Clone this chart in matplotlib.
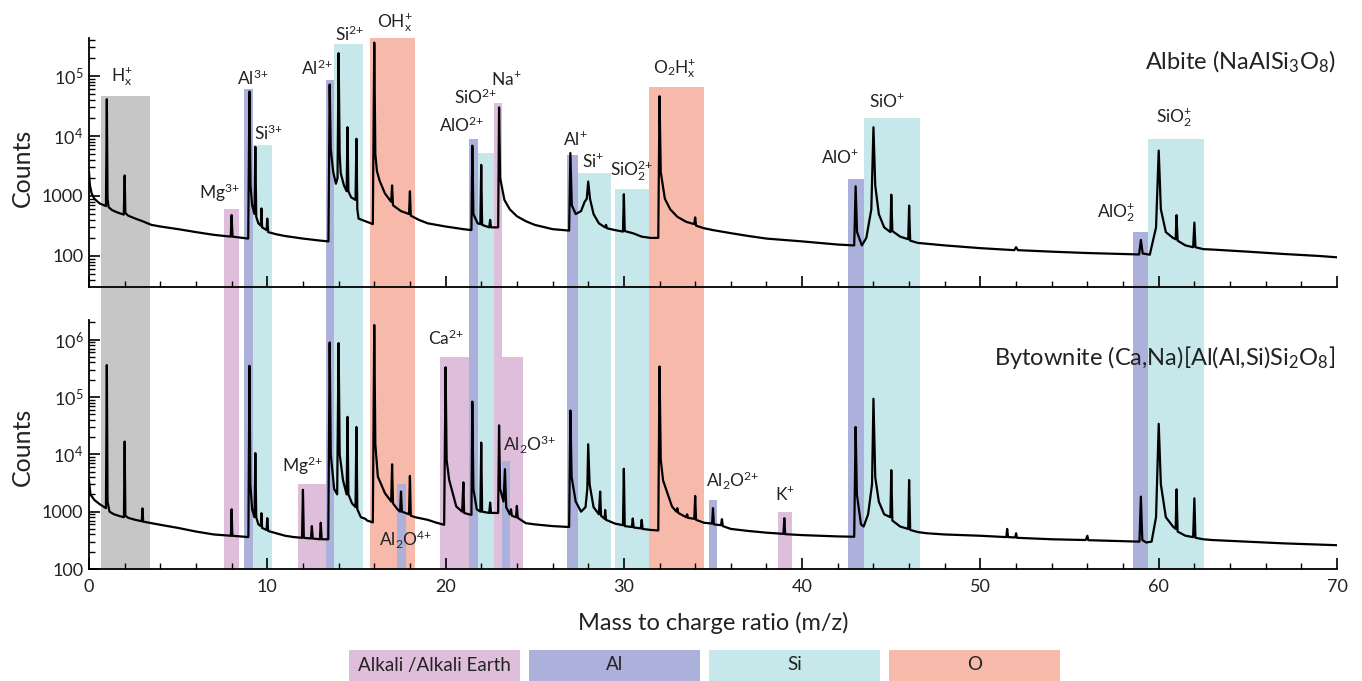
import math
import matplotlib
matplotlib.use('Agg')
import matplotlib.pyplot as plt
from matplotlib.patches import Rectangle
from matplotlib.ticker import MultipleLocator, LogLocator, FixedLocator, FuncFormatter

plt.rcParams['font.family'] = ['Lato', 'DejaVu Sans']
plt.rcParams['mathtext.fontset'] = 'custom'
plt.rcParams['mathtext.rm'] = 'Lato'
plt.rcParams['mathtext.it'] = 'Lato'
plt.rcParams['mathtext.default'] = 'regular'

# spectrum traces: (m/z, counts)
albite_trace = [
    (0.0, 2500), (0.05, 1500), (0.15, 1100), (0.3, 900), (0.6, 750), (0.95, 680),
    (1.0, 41000), (1.04, 900), (1.1, 650), (1.3, 580), (1.6, 530), (1.95, 490),
    (2.0, 2200), (2.04, 520), (2.2, 470), (2.6, 420), (3.0, 380), (3.5, 330),
    (4.0, 310), (5.0, 280), (6.0, 250), (7.0, 225), (7.95, 210), (8.0, 480),
    (8.05, 210), (8.6, 200), (8.93, 195), (9.0, 55000), (9.06, 1500), (9.15, 700),
    (9.28, 500), (9.33, 6600), (9.38, 450), (9.5, 350), (9.64, 320), (9.67, 620),
    (9.71, 300), (9.96, 270), (10.0, 420), (10.05, 250), (10.5, 230), (11.0, 215),
    (12.0, 195), (13.0, 180), (13.43, 175), (13.5, 72000), (13.56, 6000), (13.7, 2500),
    (13.85, 1600), (13.94, 2000), (14.0, 240000), (14.06, 5000), (14.12, 2400), (14.3, 1500),
    (14.45, 1200), (14.5, 14000), (14.55, 1200), (14.7, 950), (14.95, 860), (15.0, 9000),
    (15.05, 600), (15.12, 420), (15.5, 380), (15.92, 340), (16.0, 360000), (16.06, 5000),
    (16.15, 2600), (16.3, 1800), (16.6, 1100), (16.95, 800), (17.0, 1500), (17.05, 700),
    (17.5, 560), (17.95, 500), (18.0, 1200), (18.05, 470), (18.5, 400), (19.0, 350),
    (20.0, 310), (21.0, 280), (21.45, 270), (21.5, 6900), (21.56, 500), (21.8, 350),
    (21.95, 340), (22.0, 3300), (22.05, 330), (22.45, 300), (22.5, 400), (22.55, 300),
    (22.95, 300), (23.0, 30000), (23.06, 2000), (23.3, 860), (23.6, 600), (24.0, 460),
    (24.5, 380), (25.0, 330), (26.0, 280), (26.93, 265), (27.0, 5200), (27.08, 700),
    (27.3, 500), (27.6, 560), (27.8, 800), (27.92, 900), (28.0, 1740), (28.1, 900),
    (28.3, 500), (28.6, 350), (28.95, 300), (29.0, 330), (29.05, 290), (29.5, 270),
    (29.95, 255), (30.0, 1070), (30.05, 260), (30.5, 240), (31.0, 210), (31.5, 200),
    (31.93, 200), (32.0, 46000), (32.07, 2500), (32.3, 900), (32.6, 600), (33.0, 450),
    (33.5, 370), (33.95, 340), (34.0, 440), (34.05, 320), (34.5, 290), (35.0, 270),
    (36.0, 240), (37.0, 215), (38.0, 195), (39.0, 185), (40.0, 175), (41.0, 165),
    (42.0, 155), (42.92, 150), (43.0, 1450), (43.08, 250), (43.35, 150), (43.6, 200),
    (43.88, 600), (44.0, 14000), (44.1, 1500), (44.3, 500), (44.6, 300), (44.95, 250),
    (45.0, 1050), (45.06, 260), (45.5, 210), (45.95, 190), (46.0, 690), (46.06, 180),
    (46.5, 165), (47.0, 160), (48.0, 150), (50.0, 135), (51.9, 125), (52.0, 140),
    (52.1, 125), (54.0, 118), (56.0, 112), (58.0, 108), (58.9, 106), (59.0, 185),
    (59.1, 110), (59.5, 105), (59.85, 300), (60.0, 5700), (60.12, 600), (60.4, 250),
    (60.8, 200), (60.95, 190), (61.0, 480), (61.06, 180), (61.5, 150), (61.93, 140),
    (62.0, 360), (62.06, 140), (62.5, 130), (63.0, 128), (65.0, 118), (67.0, 108),
    (69.0, 100), (70.0, 95),
]

bytownite_trace = [
    (0.0, 3500), (0.08, 2000), (0.3, 1600), (0.6, 1350), (0.95, 1150), (1.0, 360000),
    (1.04, 1500), (1.15, 1000), (1.4, 900), (1.7, 840), (1.96, 800), (2.0, 16700),
    (2.04, 850), (2.2, 780), (2.6, 720), (2.96, 680), (3.0, 1140), (3.04, 670),
    (3.5, 630), (4.0, 590), (5.0, 520), (6.0, 450), (7.0, 400), (7.96, 380),
    (8.0, 1100), (8.04, 380), (8.5, 370), (8.94, 360), (9.0, 350000), (9.05, 3000),
    (9.15, 1100), (9.28, 800), (9.33, 10500), (9.38, 800), (9.5, 600), (9.64, 560),
    (9.67, 940), (9.71, 520), (9.96, 480), (10.0, 770), (10.05, 460), (10.5, 420),
    (11.0, 380), (11.5, 360), (11.95, 350), (12.0, 2400), (12.05, 350), (12.45, 340),
    (12.5, 560), (12.55, 340), (12.95, 330), (13.0, 640), (13.05, 330), (13.42, 330),
    (13.5, 890000), (13.56, 10000), (13.75, 2500), (13.92, 2000), (14.0, 870000), (14.06, 10000),
    (14.25, 3500), (14.45, 2000), (14.5, 45000), (14.55, 2000), (14.75, 1400), (14.95, 1200),
    (15.0, 30000), (15.05, 1100), (15.25, 800), (15.5, 750), (15.6, 700), (15.92, 650),
    (16.0, 1800000), (16.06, 15000), (16.2, 4100), (16.6, 2100), (16.95, 1500), (17.0, 6700),
    (17.05, 1400), (17.3, 1100), (17.45, 1000), (17.5, 2240), (17.55, 1000), (17.95, 900),
    (18.0, 4200), (18.05, 850), (18.3, 800), (19.0, 720), (19.5, 640), (19.92, 590),
    (20.0, 330000), (20.06, 8000), (20.2, 3600), (20.6, 1230), (20.93, 1000), (21.0, 3240),
    (21.04, 950), (21.3, 900), (21.45, 880), (21.5, 83000), (21.56, 2500), (21.75, 1100),
    (21.95, 1000), (22.0, 16000), (22.05, 1000), (22.45, 950), (22.5, 1440), (22.55, 950),
    (22.95, 950), (23.0, 32000), (23.06, 2500), (23.25, 1500), (23.33, 5500), (23.4, 1200),
    (23.6, 900), (23.67, 1100), (23.72, 850), (23.95, 800), (24.0, 1260), (24.05, 780),
    (24.5, 630), (25.0, 600), (26.0, 560), (26.93, 540), (27.0, 58000), (27.07, 4000),
    (27.3, 1500), (27.6, 1000), (27.85, 1200), (27.95, 2500), (28.0, 15000), (28.08, 3000),
    (28.3, 1200), (28.6, 900), (28.67, 2240), (28.72, 850), (28.92, 750), (28.95, 1070),
    (29.0, 720), (29.5, 620), (29.95, 580), (30.0, 5600), (30.05, 560), (30.45, 540),
    (30.5, 760), (30.55, 530), (30.95, 510), (31.0, 720), (31.05, 500), (31.5, 480),
    (31.93, 470), (32.0, 340000), (32.07, 8000), (32.2, 3500), (32.7, 1230), (32.95, 1000),
    (33.0, 1150), (33.05, 950), (33.5, 800), (33.55, 900), (33.6, 780), (33.95, 750),
    (34.0, 1880), (34.05, 720), (34.5, 640), (34.95, 620), (35.0, 1150), (35.05, 600),
    (35.45, 580), (35.5, 740), (35.55, 560), (36.0, 500), (37.0, 460), (38.0, 430),
    (38.95, 410), (39.0, 770), (39.05, 405), (40.0, 390), (41.0, 380), (42.0, 370),
    (42.92, 365), (43.0, 30000), (43.07, 2000), (43.3, 600), (43.45, 550), (43.7, 900),
    (43.92, 3000), (44.0, 93000), (44.1, 4000), (44.3, 1500), (44.6, 900), (44.95, 800),
    (45.0, 5300), (45.06, 700), (45.5, 550), (45.95, 500), (46.0, 3560), (46.06, 480),
    (46.5, 440), (47.0, 420), (48.0, 400), (50.0, 380), (51.45, 360), (51.5, 500),
    (51.55, 360), (51.95, 355), (52.0, 420), (52.05, 350), (54.0, 330), (55.9, 320),
    (56.0, 380), (56.05, 318), (58.0, 305), (58.92, 300), (59.0, 1830), (59.08, 320),
    (59.3, 290), (59.6, 300), (59.85, 800), (60.0, 34000), (60.12, 3000), (60.4, 800),
    (60.8, 550), (60.95, 500), (61.0, 2450), (61.06, 450), (61.5, 380), (61.93, 360),
    (62.0, 1710), (62.06, 350), (62.5, 330), (63.0, 320), (65.0, 300), (67.0, 280),
    (70.0, 260),
]

# colour groups
group_colors = {'H': '#c6c6c6', 'alkali': '#dfbedc', 'Al': '#abb1da', 'Si': '#c6e8ea', 'O': '#f6b9aa'}

# bands marked on the albite spectrum, continued down through the bytownite panel
shared_left = [0.66, 7.55, 8.69, 9.18, 13.27, 13.74, 15.76, 21.33, 21.80, 22.70, 26.79, 27.40, 29.53, 31.40, 42.60, 43.45, 58.53, 59.41]
shared_right = [3.42, 8.40, 9.18, 10.24, 13.74, 15.37, 18.28, 21.80, 22.70, 23.14, 27.40, 29.30, 31.40, 34.49, 43.45, 46.60, 59.41, 62.55]
shared_top = [4.7e4, 600, 6.0e4, 7000, 8.6e4, 3.4e5, 4.3e5, 8900, 5200, 3.6e4, 4800, 2400, 1300, 6.6e4, 1950, 1.97e4, 254, 8900]
shared_group = ['H', 'alkali', 'Al', 'Si', 'Al', 'Si', 'O', 'Al', 'Si', 'alkali', 'Al', 'Si', 'Si', 'O', 'Al', 'Si', 'Al', 'Si']

# bands only on the bytownite spectrum (the first, Ca2+, sits under the shared ones)
byt_left = [19.70, 11.70, 17.26, 23.16, 34.77, 38.66]
byt_right = [24.34, 13.27, 17.78, 23.63, 35.20, 39.41]
byt_top = [4.9e5, 3000, 3000, 7700, 1600, 1000]
byt_group = ['alkali', 'alkali', 'Al', 'Al', 'Al', 'alkali']

P = '{+}'
top_labels = [r'H$_x^{%s}$' % P, r'Mg$^{3%s}$' % P, r'Al$^{3%s}$' % P, r'Si$^{3%s}$' % P,
              r'Al$^{2%s}$' % P, r'Si$^{2%s}$' % P, r'OH$_x^{%s}$' % P, r'AlO$^{2%s}$' % P,
              r'SiO$^{2%s}$' % P, r'Na$^{%s}$' % P, r'Al$^{%s}$' % P, r'Si$^{%s}$' % P,
              r'SiO$_2^{2%s}$' % P, r'O$_2$H$_x^{%s}$' % P, r'AlO$^{%s}$' % P, r'SiO$^{%s}$' % P,
              r'AlO$_2^{%s}$' % P, r'SiO$_2^{%s}$' % P]
top_label_mz = [1.85, 7.3, 9.2, 10.05, 12.8, 14.64, 17.16, 20.92, 21.7, 23.4, 27.26, 28.27,
                30.45, 32.87, 42.12, 44.76, 57.6, 60.85]
top_label_counts = [8.0e4, 890, 7.1e4, 8500, 1.05e5, 3.9e5, 6.5e5, 1.17e4, 3.4e4, 7.2e4, 7100, 3100,
                    2100, 1.1e5, 3500, 3.0e4, 430, 1.66e4]

byt_labels = [r'Mg$^{2%s}$' % P, r'Al$_2$O$^{4%s}$' % P, r'Ca$^{2%s}$' % P,
              r'Al$_2$O$^{3%s}$' % P, r'Al$_2$O$^{2%s}$' % P, r'K$^{%s}$' % P]
byt_label_mz = [11.95, 17.78, 20.0, 24.73, 36.12, 39.03]
byt_label_counts = [5000, 245, 8.1e5, 1.15e4, 2700, 1600]

legend_labels = ['Alkali /Alkali Earth', 'Al', 'Si', 'O']
legend_groups = ['alkali', 'Al', 'Si', 'O']

W, H = 1362, 681
fig = plt.figure(figsize=(W / 100, H / 100), dpi=100)
left, width = 89 / W, 1248 / W
ax_top = fig.add_axes([left, 1 - 287 / H, width, 249 / H])
ax_bot = fig.add_axes([left, 1 - 569 / H, width, 249 / H])
ax_top.set_zorder(2)
ax_top.patch.set_alpha(0)


def log_fmt(v, pos):
    if v < 5000:
        return '%d' % round(v)
    return r'$10^{%d}$' % round(math.log10(v))


for ax, ylim, majors in [(ax_top, (30.4, 4.3e5), [100, 1000, 1e4, 1e5]),
                         (ax_bot, (100, 2.2e6), [100, 1000, 1e4, 1e5, 1e6])]:
    ax.set_yscale('log')
    ax.set_xlim(0, 70)
    ax.set_ylim(*ylim)
    for s in ['top', 'right']:
        ax.spines[s].set_visible(False)
    for s in ['left', 'bottom']:
        ax.spines[s].set_linewidth(1.3)
    ax.yaxis.set_major_locator(FixedLocator(majors))
    ax.yaxis.set_minor_locator(LogLocator(base=10, subs=range(2, 10), numticks=20))
    ax.yaxis.set_major_formatter(FuncFormatter(log_fmt))
    ax.xaxis.set_major_locator(MultipleLocator(10))
    ax.xaxis.set_minor_locator(MultipleLocator(2))
    ax.tick_params(which='major', direction='in', length=8, width=1.2, labelsize=13, pad=4,
                   labelcolor='#222222')
    ax.tick_params(which='minor', direction='in', length=4.5, width=1.0)
    ax.tick_params(axis='x', which='major', pad=7)

ax_top.tick_params(axis='x', labelbottom=False)

# bands in the albite panel
for l, r, t, g in zip(shared_left, shared_right, shared_top, shared_group):
    ax_top.bar(l, t - 30.4, width=r - l, bottom=30.4, align='edge', color=group_colors[g],
               linewidth=0, zorder=1)

# continuation of those bands through the gap and the bytownite panel
gap_top = (569 - 287) / 249
for l, r, t, g in zip(byt_left[:1], byt_right[:1], byt_top[:1], byt_group[:1]):
    ax_bot.bar(l, t - 100, width=r - l, bottom=100, align='edge', color=group_colors[g],
               linewidth=0, zorder=0.5)
for l, r, g in zip(shared_left, shared_right, shared_group):
    ax_bot.axvspan(l, r, ymin=0, ymax=gap_top, color=group_colors[g], linewidth=0,
                   clip_on=False, zorder=1)
for l, r, t, g in zip(byt_left[1:], byt_right[1:], byt_top[1:], byt_group[1:]):
    ax_bot.bar(l, t - 100, width=r - l, bottom=100, align='edge', color=group_colors[g],
               linewidth=0, zorder=1.5)

mz_a, c_a = zip(*albite_trace)
mz_b, c_b = zip(*bytownite_trace)
ax_top.plot(mz_a, c_a, color='black', linewidth=1.6, zorder=3)
ax_bot.plot(mz_b, c_b, color='black', linewidth=1.6, zorder=3)

for lab, x, y in zip(top_labels, top_label_mz, top_label_counts):
    ax_top.text(x, y, lab, ha='center', va='baseline', fontsize=12.5, color='#222222', zorder=4)
for lab, x, y in zip(byt_labels, byt_label_mz, byt_label_counts):
    ax_bot.text(x, y, lab, ha='center', va='baseline', fontsize=12.5, color='#222222', zorder=4)

ax_top.text(69.9, 1.3e5, r'Albite (NaAlSi$_3$O$_8$)', ha='right', va='baseline', fontsize=17, color='#222222')
ax_bot.text(69.9, 3.6e5, r'Bytownite (Ca,Na)[Al(Al,Si)Si$_2$O$_8$]', ha='right', va='baseline',
            fontsize=17, color='#222222')

fig.text(22 / W, 1 - 168 / H, 'Counts', rotation=90, ha='center', va='center', fontsize=18, color='#222222')
fig.text(22 / W, 1 - 447 / H, 'Counts', rotation=90, ha='center', va='center', fontsize=18, color='#222222')
fig.text(713 / W, 1 - 623 / H, 'Mass to charge ratio (m/z)', ha='center', va='center', fontsize=17, color='#222222')

# colour key under the axis
for i, (lab, g) in enumerate(zip(legend_labels, legend_groups)):
    x0 = 349 + i * 180
    fig.patches.append(Rectangle((x0 / W, 0), 171 / W, 31 / H, transform=fig.transFigure,
                                 facecolor=group_colors[g], edgecolor='none'))
    fig.text((x0 + 85.5) / W, 1 - 665 / H, lab, ha='center', va='center', fontsize=13.5, color='#222222')

fig.savefig('out.png', dpi=100)
